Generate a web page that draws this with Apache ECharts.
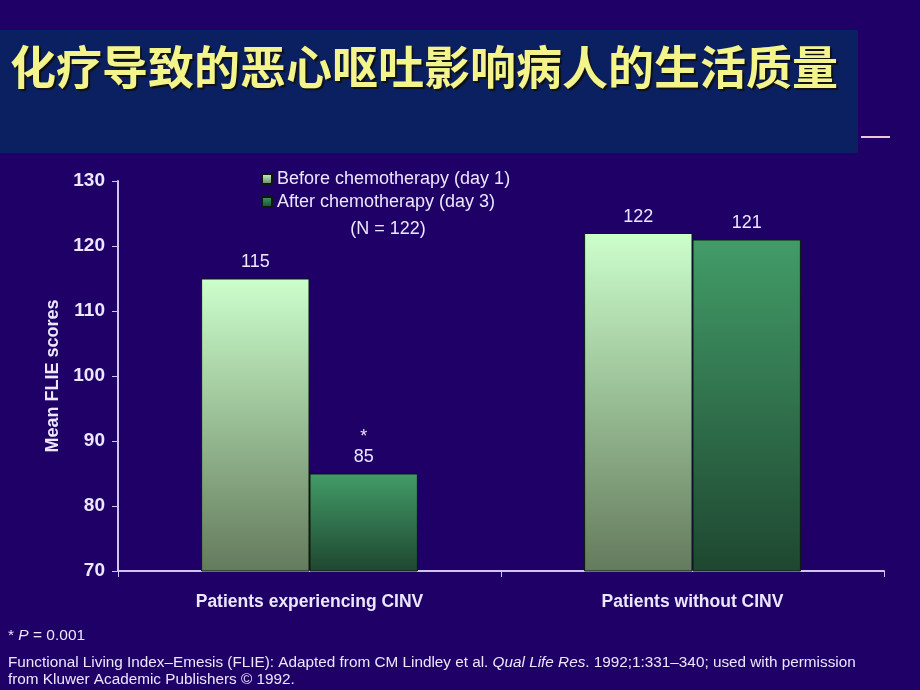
<!DOCTYPE html>
<html><head><meta charset="utf-8">
<script src="https://cdn.jsdelivr.net/npm/echarts@6/dist/echarts.min.js"></script>
<style>html,body{margin:0;padding:0;background:#1f0066;}#c{width:920px;height:690px;}</style>
</head><body><div id="c"></div>
<script>
const categories = ['Patients experiencing CINV', 'Patients without CINV'];
const beforeValues = [115, 122];
const afterValues = [85, 121];
const afterMarks = ['*', ''];
const seriesNames = ['Before chemotherapy (day 1)', 'After chemotherapy (day 3)'];
const yTicks = [70, 80, 90, 100, 110, 120, 130];

const chart = echarts.init(document.getElementById('c'), null, {renderer: 'canvas'});
const lg = (a, b) => new echarts.graphic.LinearGradient(0, 0, 0, 1, [{offset: 0, color: a}, {offset: 1, color: b}]);
const txt = '#ece6ff';
const axisCol = '#cfc3f0';
const ff = 'Liberation Sans, Arial, sans-serif';

chart.setOption({
  backgroundColor: '#1f0066',
  animation: false,
  grid: {left: 118, right: 36, top: 181, bottom: 119},
  legend: {
    orient: 'vertical', left: 256, top: 165, itemGap: 5,
    itemWidth: 10, itemHeight: 10, icon: 'rect',
    textStyle: {color: txt, fontSize: 18, fontFamily: ff},
    data: seriesNames
  },
  xAxis: {
    type: 'category', data: categories,
    axisLine: {lineStyle: {color: axisCol, width: 2}},
    axisTick: {show: true, length: 6, lineStyle: {color: axisCol}},
    axisLabel: {color: txt, fontWeight: 'bold', fontSize: 17.5, margin: 22, fontFamily: ff}
  },
  yAxis: {
    type: 'value', min: 70, max: 130, interval: 10,
    name: 'Mean FLIE scores', nameLocation: 'middle', nameGap: 55, nameRotate: 90,
    nameTextStyle: {color: txt, fontWeight: 'bold', fontSize: 18, fontFamily: ff},
    splitLine: {show: false},
    axisLine: {show: true, lineStyle: {color: axisCol, width: 2}},
    axisTick: {show: true, length: 6, lineStyle: {color: axisCol}},
    axisLabel: {color: txt, fontWeight: 'bold', fontSize: 19, margin: 13, fontFamily: ff,
      formatter: v => yTicks.includes(v) ? String(v) : ''}
  },
  series: [
    {
      name: seriesNames[0], type: 'bar', data: beforeValues, barWidth: '28.3%', barGap: '0%',
      itemStyle: {color: lg('#ccffcc', '#647a5c'), borderColor: '#0a1a10', borderWidth: 1},
      label: {show: true, position: 'top', distance: 7, color: txt, fontSize: 18, fontFamily: ff}
    },
    {
      name: seriesNames[1], type: 'bar', data: afterValues, barWidth: '28.3%',
      itemStyle: {color: lg('#429c68', '#1e4730'), borderColor: '#0a1a10', borderWidth: 1},
      label: {show: true, position: 'top', distance: 6, color: txt, fontSize: 18, lineHeight: 20, fontFamily: ff,
        formatter: p => (afterMarks[p.dataIndex] ? afterMarks[p.dataIndex] + '\n' : '') + p.value}
    }
  ],
  graphic: [
    {type: 'rect', shape: {x: 0, y: 30, width: 858, height: 123}, style: {fill: '#0b2060'}, z: -1},
    {type: 'line', shape: {x1: 861, y1: 137, x2: 890, y2: 137}, style: {stroke: '#e6c8d8', lineWidth: 2}},
    {type: 'text', left: 10, top: 44, style: {
      text: '化疗导致的恶心呕吐影响病人的生活质量', fill: '#f4f48c', fontSize: 46, fontWeight: 'bold',
      fontFamily: 'Noto Sans CJK SC', textShadowColor: '#111', textShadowOffsetX: 2, textShadowOffsetY: 2, textShadowBlur: 1}},
    {type: 'text', x: 388, y: 229, style: {text: '(N = 122)', fill: txt, fontSize: 18, fontFamily: ff,
      align: 'center', verticalAlign: 'middle'}},
    {type: 'text', x: 8, y: 636, style: {
      verticalAlign: 'middle',
      rich: {i: {fontStyle: 'italic', fill: txt, fontSize: 15.5, fontFamily: ff},
             n: {fill: txt, fontSize: 15.5, fontFamily: ff}},
      text: '{n|* }{i|P}{n| = 0.001}'}},
    {type: 'text', x: 8, y: 671, style: {
      verticalAlign: 'middle',
      rich: {i: {fontStyle: 'italic', fill: txt, fontSize: 15.3, fontFamily: ff, lineHeight: 17},
             n: {fill: txt, fontSize: 15.3, fontFamily: ff, lineHeight: 17}},
      text: '{n|Functional Living Index–Emesis (FLIE): Adapted from CM Lindley et al. }{i|Qual Life Res}{n|. 1992;1:331–340; used with permission}\n{n|from Kluwer Academic Publishers © 1992.}'}}
  ]
});
</script></body></html>
